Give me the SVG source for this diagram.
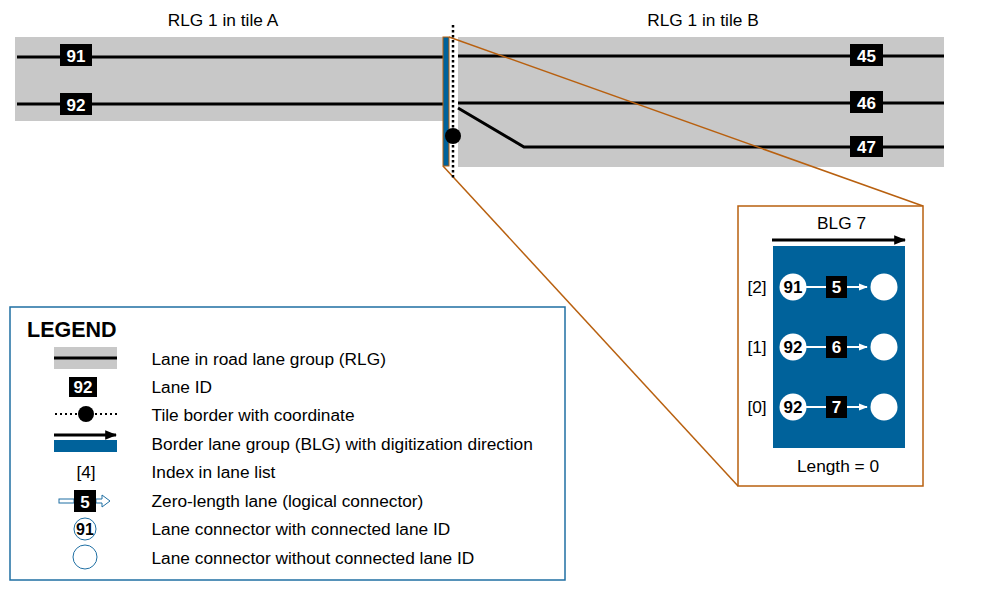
<svg xmlns="http://www.w3.org/2000/svg" width="1000" height="592" viewBox="0 0 1000 592">
<style>
text{font-family:"Liberation Sans",Arial,sans-serif;}
.lbl{font-size:17.3px;fill:#000;}
.idt{font-size:17px;font-weight:bold;fill:#fff;text-anchor:middle;}
.idb{fill:#000;}
.lane{stroke:#000;stroke-width:3;fill:none;}
.gray{fill:#c8c8c8;}
.blue{fill:#00629b;}
.orange{stroke:#b8600f;stroke-width:1.5;fill:none;}
.wcirc{fill:#fff;}
.cid{font-size:17px;font-weight:bold;fill:#000;text-anchor:middle;}
.lg{font-size:17.3px;fill:#000;}
</style>
<defs>
<marker id="ah" viewBox="0 0 10 10" refX="9" refY="5" markerWidth="4" markerHeight="4" orient="auto" markerUnits="strokeWidth"><path d="M0,1 L10,5 L0,9 z" fill="#000"/></marker>
<marker id="wh" viewBox="0 0 10 10" refX="9" refY="5" markerWidth="4.5" markerHeight="4.5" orient="auto" markerUnits="strokeWidth"><path d="M0,1 L10,5 L0,9 z" fill="#fff"/></marker>
</defs>

<text class="lbl" x="223" y="25.5" text-anchor="middle" font-size="16.8">RLG 1 in tile A</text>
<text class="lbl" x="703" y="25.5" text-anchor="middle" font-size="16.8">RLG 1 in tile B</text>

<g id="rlg-tile-a">
<rect class="gray" x="15" y="37" width="428" height="84"/>
<line class="lane" x1="17" y1="57" x2="443" y2="57"/>
<line class="lane" x1="17" y1="104" x2="443" y2="104"/>
</g>
<g id="rlg-tile-b">
<rect class="gray" x="458" y="37" width="486" height="130"/>
<line class="lane" x1="458" y1="56" x2="944" y2="56"/>
<line class="lane" x1="458" y1="103" x2="944" y2="103"/>
<polyline class="lane" points="458,108 524,147 944,147"/>
</g>
<g id="lane-91"><rect class="idb" x="60" y="44" width="32" height="22"/><text class="idt" x="76" y="61.5">91</text></g>
<g id="lane-92"><rect class="idb" x="60" y="93" width="32" height="22"/><text class="idt" x="76" y="110.5">92</text></g>
<g id="lane-45"><rect class="idb" x="850" y="44" width="33" height="22"/><text class="idt" x="866.5" y="61.5">45</text></g>
<g id="lane-46"><rect class="idb" x="850" y="91" width="33" height="22"/><text class="idt" x="866.5" y="108.5">46</text></g>
<g id="lane-47"><rect class="idb" x="850" y="136" width="33" height="21"/><text class="idt" x="866.5" y="153">47</text></g>

<g id="connectors">
<line class="orange" x1="449" y1="37" x2="923" y2="206"/>
<line class="orange" x1="443" y1="166" x2="738" y2="486"/>
</g>

<g id="blg-bar">
<rect class="blue" x="443" y="37" width="6" height="129" stroke="#b8600f" stroke-width="1"/>
</g>
<g id="tile-border">
<line x1="453" y1="25" x2="453" y2="180" stroke="#000" stroke-width="2.5" stroke-dasharray="2.5 2.5"/>
<circle cx="453" cy="136" r="8" fill="#000"/>
</g>

<g id="blg-detail">
<rect x="738" y="206" width="185" height="280" fill="#fff" stroke="#b8600f" stroke-width="1.5"/>
<text class="lbl" x="841.5" y="229" text-anchor="middle">BLG 7</text>
<line x1="772" y1="240" x2="905" y2="240" stroke="#000" stroke-width="3" marker-end="url(#ah)"/>
<rect class="blue" x="773" y="246" width="132" height="202"/>
<text class="lbl" x="757" y="293" text-anchor="middle">[2]</text>
<text class="lbl" x="757" y="353" text-anchor="middle">[1]</text>
<text class="lbl" x="757" y="413" text-anchor="middle">[0]</text>
<g id="row-2">
<circle class="wcirc" cx="793" cy="287" r="13.5"/><text class="cid" x="793" y="293">91</text>
<line x1="806" y1="287" x2="826" y2="287" stroke="#fff" stroke-width="2"/>
<rect class="idb" x="826" y="276" width="21" height="22"/><text class="idt" x="836.5" y="293">5</text>
<line x1="847" y1="287" x2="867" y2="287" stroke="#fff" stroke-width="2" marker-end="url(#wh)"/>
<circle class="wcirc" cx="884" cy="287" r="13.5"/>
</g>
<g id="row-1">
<circle class="wcirc" cx="793" cy="347" r="13.5"/><text class="cid" x="793" y="353">92</text>
<line x1="806" y1="347" x2="826" y2="347" stroke="#fff" stroke-width="2"/>
<rect class="idb" x="826" y="336" width="21" height="22"/><text class="idt" x="836.5" y="353">6</text>
<line x1="847" y1="347" x2="867" y2="347" stroke="#fff" stroke-width="2" marker-end="url(#wh)"/>
<circle class="wcirc" cx="884" cy="347" r="13.5"/>
</g>
<g id="row-0">
<circle class="wcirc" cx="793" cy="407" r="13.5"/><text class="cid" x="793" y="413">92</text>
<line x1="806" y1="407" x2="826" y2="407" stroke="#fff" stroke-width="2"/>
<rect class="idb" x="826" y="396" width="21" height="22"/><text class="idt" x="836.5" y="413">7</text>
<line x1="847" y1="407" x2="867" y2="407" stroke="#fff" stroke-width="2" marker-end="url(#wh)"/>
<circle class="wcirc" cx="884" cy="407" r="13.5"/>
</g>
<text class="lbl" x="838" y="472" text-anchor="middle">Length = 0</text>
</g>

<g id="legend">
<rect x="10" y="307" width="555" height="273" fill="#fff" stroke="#1f6fa3" stroke-width="1.5"/>
<text x="27" y="337" font-size="21.5" font-weight="bold" fill="#000">LEGEND</text>
<rect class="gray" x="54" y="347" width="63" height="22"/>
<line x1="54" y1="358" x2="117" y2="358" stroke="#000" stroke-width="3"/>
<text class="lg" x="151.5" y="364.5">Lane in road lane group (RLG)</text>
<rect class="idb" x="69" y="377" width="28" height="20"/><text class="idt" x="83" y="393">92</text>
<text class="lg" x="151.5" y="393">Lane ID</text>
<line x1="55" y1="414" x2="117" y2="414" stroke="#000" stroke-width="2" stroke-dasharray="2 3"/>
<circle cx="86" cy="414" r="8" fill="#000"/>
<text class="lg" x="151.5" y="421">Tile border with coordinate</text>
<line x1="54" y1="435" x2="116" y2="435" stroke="#000" stroke-width="3" marker-end="url(#ah)"/>
<rect class="blue" x="54" y="440" width="63" height="12"/>
<text class="lg" x="151.5" y="450">Border lane group (BLG) with digitization direction</text>
<text class="lg" x="86" y="478" text-anchor="middle">[4]</text>
<text class="lg" x="151.5" y="478">Index in lane list</text>
<rect x="59" y="499" width="15" height="4" fill="#fff" stroke="#1f6fa3" stroke-width="1"/>
<path d="M96,499 L102,499 L102,495 L110,501 L102,507 L102,503 L96,503 Z" fill="#fff" stroke="#1f6fa3" stroke-width="1"/>
<rect class="idb" x="74" y="490" width="22" height="22"/><text class="idt" x="85" y="507.5">5</text>
<text class="lg" x="151.5" y="507">Zero-length lane (logical connector)</text>
<circle cx="85" cy="529" r="11" fill="#fff" stroke="#1f6fa3" stroke-width="1"/>
<text x="85" y="535" font-size="16" font-weight="bold" text-anchor="middle" fill="#000">91</text>
<text class="lg" x="151.5" y="535">Lane connector with connected lane ID</text>
<circle cx="85" cy="557" r="12" fill="#fff" stroke="#1f6fa3" stroke-width="1"/>
<text class="lg" x="151.5" y="564">Lane connector without connected lane ID</text>
</g>
</svg>
